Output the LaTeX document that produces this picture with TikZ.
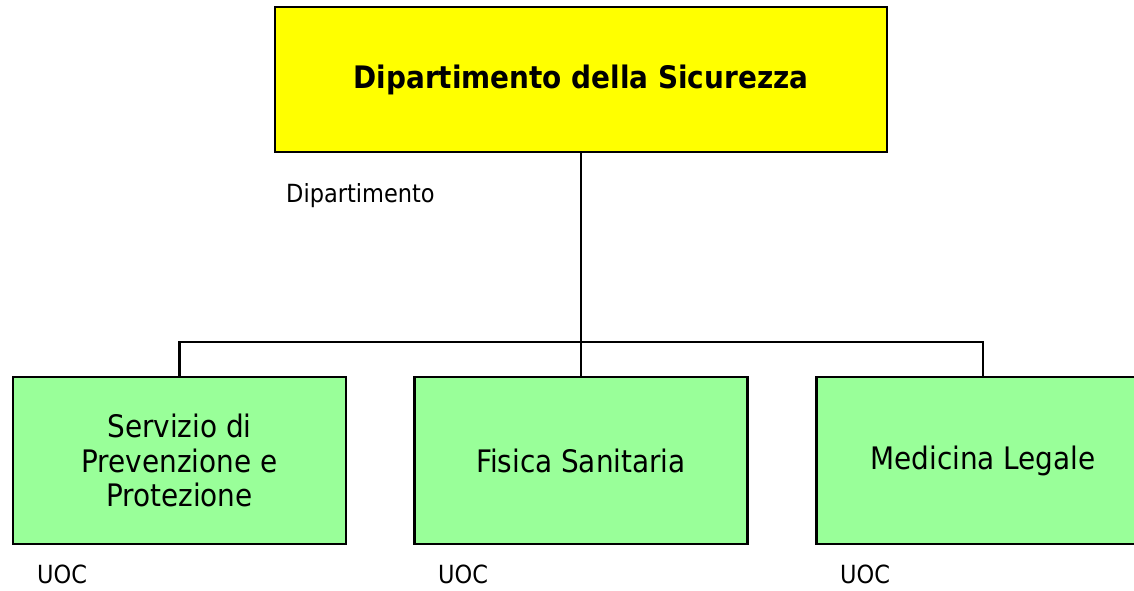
\documentclass[tikz,border=0pt]{standalone}
\usepackage{fontspec}
\setmainfont{DejaVu Sans Condensed}
\definecolor{boxgreen}{HTML}{99FF99}
\definecolor{boxyellow}{HTML}{FFFF00}
\begin{document}
\begin{tikzpicture}[x=1pt,y=-1pt,
  box/.style={draw=black, line width=2.2pt, inner sep=0pt, align=center},
  topbox/.style={box, fill=boxyellow, minimum width=612pt, minimum height=145pt,
    font=\fontsize{31}{36}\selectfont\bfseries},
  unitbox/.style={box, fill=boxgreen, minimum width=333pt, minimum height=167pt,
    font=\fontsize{31}{34.5}\selectfont},
  lbl/.style={anchor=base west, inner sep=0pt, font=\fontsize{25}{30}\selectfont},
  link/.style={line width=2.2pt}]
\useasboundingbox (0,0) rectangle (1134,590);
\clip (0,0) rectangle (1134,590);
\node[topbox] (top) at (581,79.5) {Dipartimento della Sicurezza};
\node[unitbox] (a) at (179.5,460.5) {Servizio di\\Prevenzione e\\Protezione};
\node[unitbox] (b) at (581,460.5) {Fisica Sanitaria};
\node[unitbox] (c) at (983,460.5) {Medicina Legale};
\coordinate (bus) at (581,342);
\draw[link] (top.south) -- (bus);
\draw[link] (a.north) |- (bus) -| (c.north);
\draw[link] (b.north) -- (bus);
\node[lbl] (dl) at (286,202) {Dipartimento};
\node[lbl] (ua) at (37,583) {UOC};
\node[lbl] (ub) at (438,583) {UOC};
\node[lbl] (uc) at (840,583) {UOC};
\end{tikzpicture}
\end{document}
